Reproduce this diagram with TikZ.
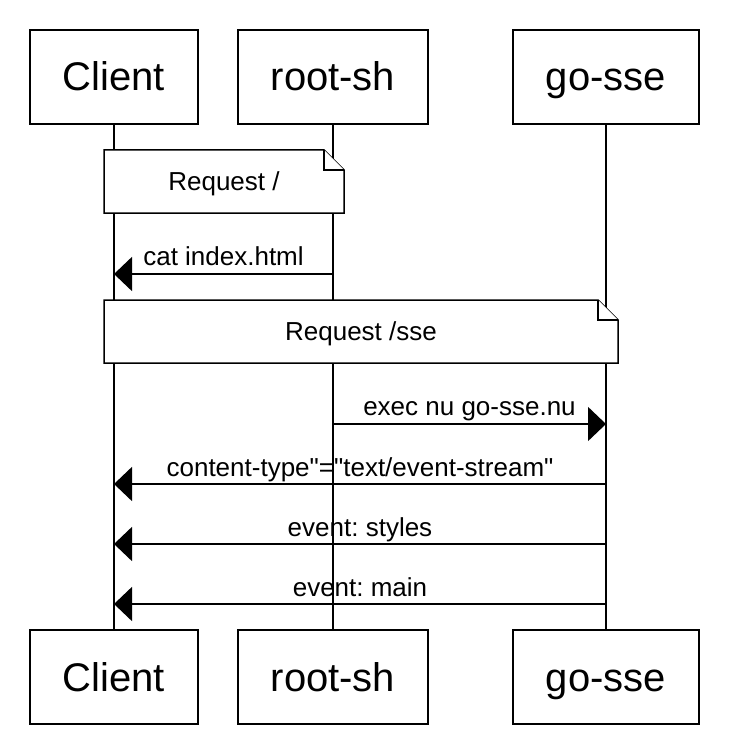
\documentclass[tikz,border=0pt]{standalone}
\usepackage{fontspec}
\setmainfont{Liberation Sans}[Ligatures=TeXOff]
\frenchspacing
\usetikzlibrary{arrows.meta}
\def\notebox[#1](#2,#3)(#4,#5){\draw[#1] (#2,#3) -- ({#4-20},#3) -- (#4,{#3+20}) -- (#4,#5) -- (#2,#5) -- cycle; \draw[#1] ({#4-20},#3) -- ({#4-20},{#3+20}) -- (#4,{#3+20});}

\begin{document}
\begin{tikzpicture}[x=1pt, y=-1pt, line width=1.5pt,
		actor/.style={draw, fill=white, minimum height=94pt, inner sep=0pt, text height=28pt, text depth=0pt, font=\fontsize{40}{48}\selectfont},
		lbl/.style={anchor=base, inner sep=0pt, font=\fontsize{26}{31}\selectfont},
		msg/.style={-{Triangle[length=18pt, width=34pt]}}]
			%%%%% START %%%%%
			\useasboundingbox (0,0) rectangle (730,746);
			
			\node[actor, minimum width=168pt] (clientTop) at (114,77) {Client};
			\node[actor, minimum width=190pt] (rootTop) at (333,77) {root-sh};
			\node[actor, minimum width=186pt] (goTop) at (606,77) {go-sse};
			
			\node[actor, minimum width=168pt] (clientBot) at (114,677) {Client};
			\node[actor, minimum width=190pt] (rootBot) at (333,677) {root-sh};
			\node[actor, minimum width=186pt] (goBot) at (606,677) {go-sse};
			
			% lifelines
			\draw (clientTop) -- (clientBot);
			\draw (rootTop) -- (rootBot);
			\draw (goTop) -- (goBot);
			
			\notebox[fill=white](104,150)(344,213);
			\node[lbl] (reqRoot) at (224,190) {Request /};
			
			\coordinate (catFrom) at (333,274);
			\coordinate (catTo) at (114,274);
			\draw[msg] (catFrom) -- (catTo);
			\node[lbl] (catLbl) at (223.5,265) {cat index.html};
			
			\notebox[fill=white](104,300)(618,363);
			\node[lbl] (reqSse) at (361,340) {Request /sse};
			
			\coordinate (execFrom) at (333,424);
			\coordinate (execTo) at (606,424);
			\draw[msg] (execFrom) -- (execTo);
			\node[lbl] (execLbl) at (469.5,415) {exec nu go-sse.nu};
			
			\coordinate (ctFrom) at (606,484);
			\coordinate (ctTo) at (114,484);
			\draw[msg] (ctFrom) -- (ctTo);
			\node[lbl] (ctLbl) at (360,476) {content-type"="text/event-stream"};
			
			\coordinate (stFrom) at (606,544);
			\coordinate (stTo) at (114,544);
			\draw[msg] (stFrom) -- (stTo);
			\node[lbl] (stLbl) at (360,536) {event: styles};
			
			\coordinate (mnFrom) at (606,604);
			\coordinate (mnTo) at (114,604);
			\draw[msg] (mnFrom) -- (mnTo);
			\node[lbl] (mnLbl) at (360,596) {event: main};
			
			%%%%% END %%%%%
\end{tikzpicture}
\end{document}
